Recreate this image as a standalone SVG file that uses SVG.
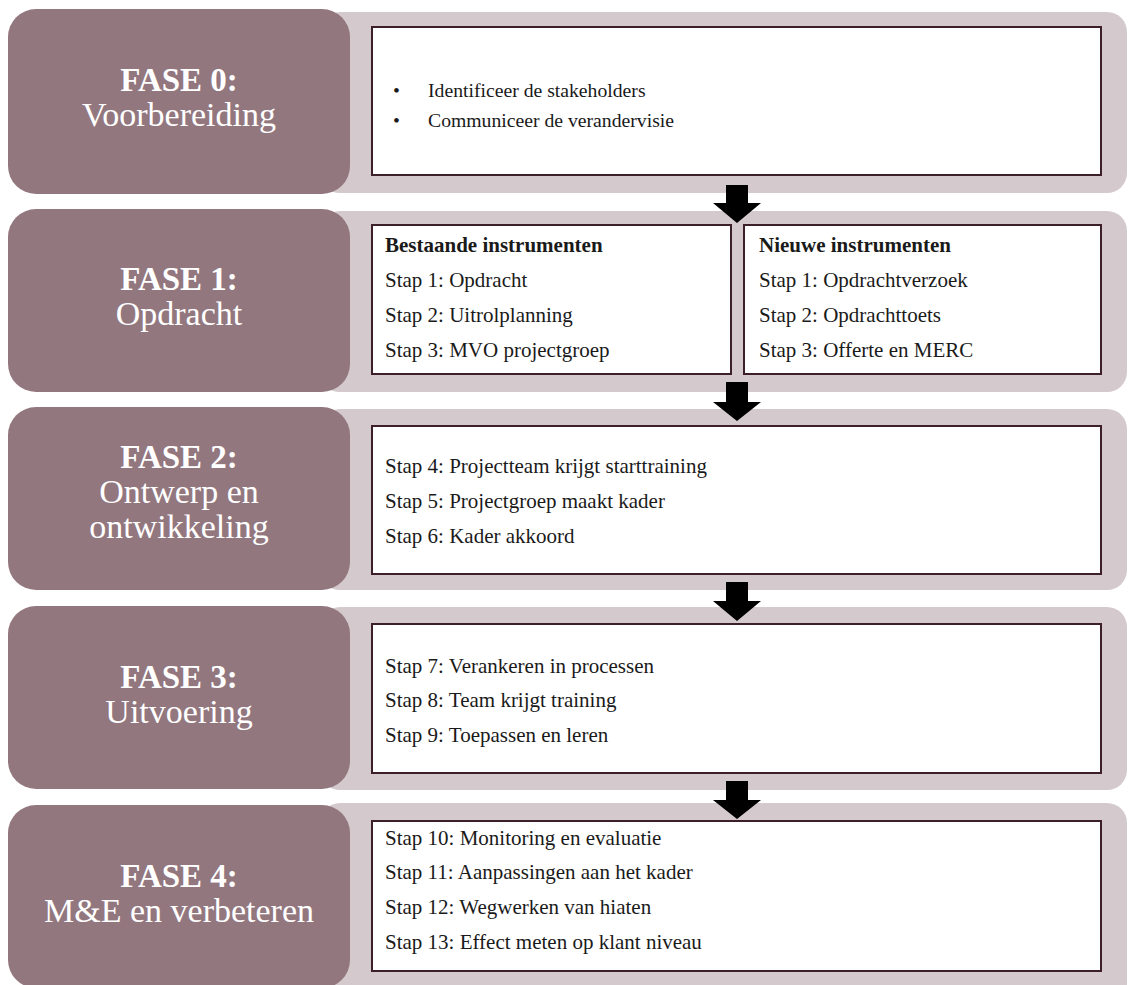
<svg xmlns="http://www.w3.org/2000/svg" width="1129" height="985" viewBox="0 0 1129 985">
<defs>
<style>
.band{fill:#d4cacd}
.phase{fill:#93777f}
.box{fill:#ffffff;stroke:#3d1f29;stroke-width:2}
.t1{font-family:"Liberation Serif","DejaVu Serif",serif;font-size:33px;font-weight:bold;fill:#ffffff;text-anchor:middle}
.t2{font-family:"Liberation Serif","DejaVu Serif",serif;font-size:34px;fill:#ffffff;text-anchor:middle}
.s{font-family:"Liberation Serif","DejaVu Serif",serif;font-size:21px;fill:#1a1a1a}
.b{font-family:"Liberation Serif","DejaVu Serif",serif;font-size:19.7px;fill:#1a1a1a}
.sb{font-family:"Liberation Serif","DejaVu Serif",serif;font-size:21px;font-weight:bold;fill:#1a1a1a}
.arr{fill:#000000}
</style>
</defs>
<rect width="1129" height="985" fill="#ffffff"/>
<g id="fase0">
<rect class="band" x="320" y="12" width="807" height="181" rx="20"/>
<rect class="phase" x="8" y="9" width="342" height="185" rx="28"/>
<text class="t1" x="179" y="91">FASE 0:</text>
<text class="t2" x="179" y="126">Voorbereiding</text>
<rect class="box" x="372" y="27" width="729" height="148"/>
<text class="b" x="393" y="97">•</text>
<text class="b" x="428" y="97">Identificeer de stakeholders</text>
<text class="b" x="393" y="127">•</text>
<text class="b" x="428" y="127">Communiceer de verandervisie</text>
</g>
<g id="fase1">
<rect class="band" x="320" y="211" width="807" height="181" rx="20"/>
<rect class="phase" x="8" y="209" width="342" height="183" rx="28"/>
<text class="t1" x="179" y="290">FASE 1:</text>
<text class="t2" x="179" y="325">Opdracht</text>
<rect class="box" x="372" y="225" width="359" height="149"/>
<text class="sb" x="385" y="252">Bestaande instrumenten</text>
<text class="s" x="385" y="287">Stap 1: Opdracht</text>
<text class="s" x="385" y="322">Stap 2: Uitrolplanning</text>
<text class="s" x="385" y="357">Stap 3: MVO projectgroep</text>
<rect class="box" x="744" y="225" width="357" height="149"/>
<text class="sb" x="759" y="252">Nieuwe instrumenten</text>
<text class="s" x="759" y="287">Stap 1: Opdrachtverzoek</text>
<text class="s" x="759" y="322">Stap 2: Opdrachttoets</text>
<text class="s" x="759" y="357">Stap 3: Offerte en MERC</text>
</g>
<g id="fase2">
<rect class="band" x="320" y="409" width="807" height="181" rx="20"/>
<rect class="phase" x="8" y="407" width="342" height="183" rx="28"/>
<text class="t1" x="179" y="468">FASE 2:</text>
<text class="t2" x="179" y="503">Ontwerp en</text>
<text class="t2" x="179" y="538">ontwikkeling</text>
<rect class="box" x="372" y="426" width="729" height="148"/>
<text class="s" x="385" y="473">Stap 4: Projectteam krijgt starttraining</text>
<text class="s" x="385" y="508">Stap 5: Projectgroep maakt kader</text>
<text class="s" x="385" y="543">Stap 6: Kader akkoord</text>
</g>
<g id="fase3">
<rect class="band" x="320" y="607" width="807" height="183" rx="20"/>
<rect class="phase" x="8" y="606" width="342" height="183" rx="28"/>
<text class="t1" x="179" y="688">FASE 3:</text>
<text class="t2" x="179" y="723">Uitvoering</text>
<rect class="box" x="372" y="624" width="729" height="149"/>
<text class="s" x="385" y="673">Stap 7: Verankeren in processen</text>
<text class="s" x="385" y="707">Stap 8: Team krijgt training</text>
<text class="s" x="385" y="742">Stap 9: Toepassen en leren</text>
</g>
<g id="fase4">
<rect class="band" x="320" y="803" width="807" height="200" rx="20"/>
<rect class="phase" x="8" y="805" width="342" height="183" rx="28"/>
<text class="t1" x="179" y="887">FASE 4:</text>
<text class="t2" x="179" y="922">M&amp;E en verbeteren</text>
<rect class="box" x="372" y="821" width="729" height="150"/>
<text class="s" x="385" y="845">Stap 10: Monitoring en evaluatie</text>
<text class="s" x="385" y="879">Stap 11: Aanpassingen aan het kader</text>
<text class="s" x="385" y="914">Stap 12: Wegwerken van hiaten</text>
<text class="s" x="385" y="949">Stap 13: Effect meten op klant niveau</text>
</g>
<g id="connectors">
<polygon class="arr" points="726,185 748,185 748,203 761,203 737,223 713,203 726,203"/>
<polygon class="arr" points="726,382 748,382 748,402 761,402 737,421 713,402 726,402"/>
<polygon class="arr" points="726,582 748,582 748,601 761,601 737,621 713,601 726,601"/>
<polygon class="arr" points="726,781 748,781 748,800 761,800 737,819 713,800 726,800"/>
</g>
</svg>
